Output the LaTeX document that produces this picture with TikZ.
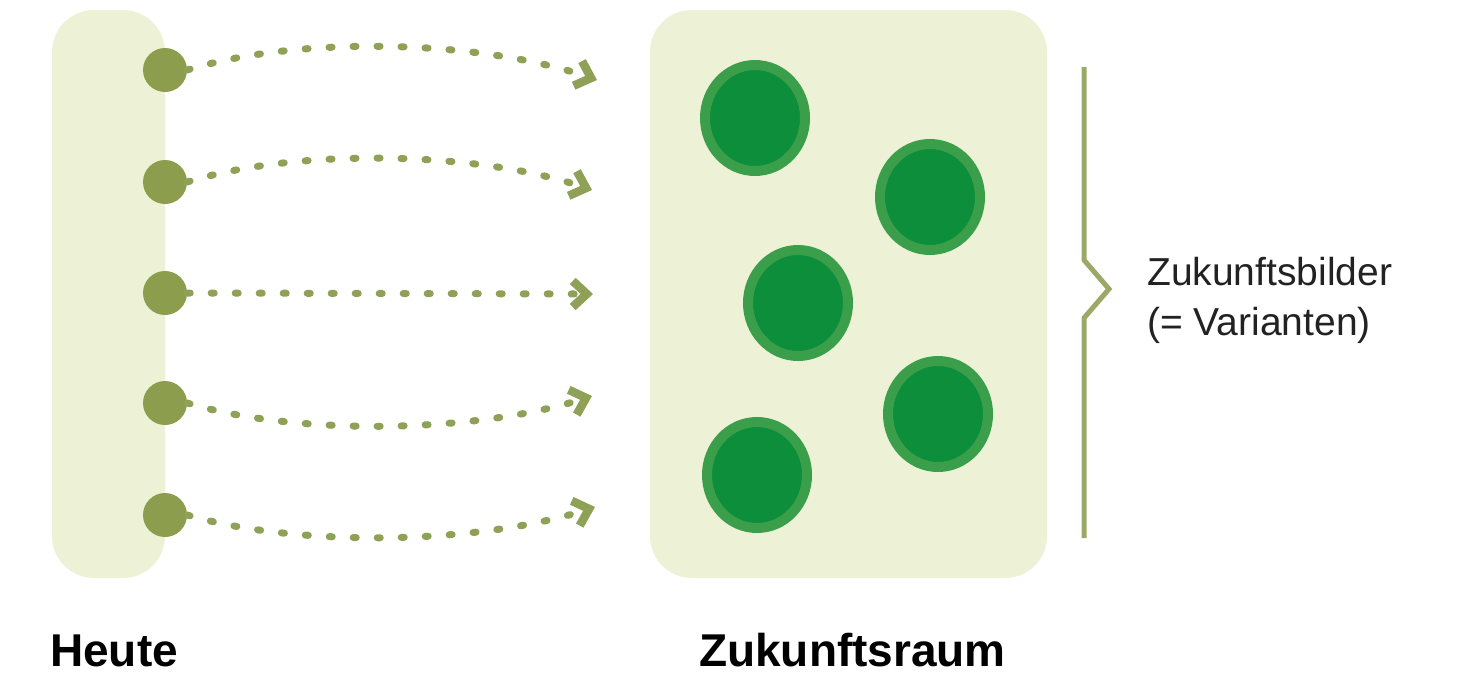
\documentclass[tikz,border=0pt]{standalone}
\usepackage{fontspec}
\setmainfont{Liberation Sans}
\usetikzlibrary{arrows.meta,shapes.geometric}
\definecolor{panel}{HTML}{EDF2D7}
\definecolor{olive}{HTML}{8C9E4E}
\definecolor{oliveline}{HTML}{8FA156}
\definecolor{bracket}{HTML}{9AAA66}
\definecolor{ringgreen}{HTML}{3A9E4A}
\definecolor{coregreen}{HTML}{0D8E3B}
\definecolor{textgray}{HTML}{222222}
\tikzset{
  panelbox/.style={fill=panel,draw=none,rounded corners=42pt,inner sep=0pt},
  startdot/.style={circle,fill=olive,draw=none,minimum size=44pt,inner sep=0pt},
  future/.style={ellipse,fill=coregreen,draw=ringgreen,line width=10pt,minimum width=100pt,minimum height=106pt,inner sep=0pt},
  pathline/.style={draw=oliveline,line width=7pt,line cap=round,dash pattern=on 3pt off 21pt,
    -{Straight Barb[length=14pt,width=26pt,line width=8.5pt,line cap=butt,line join=miter]}},
  labelbold/.style={font=\fontsize{46pt}{50pt}\selectfont\bfseries,text=black,inner sep=0pt},
  labelreg/.style={font=\fontsize{39pt}{50pt}\selectfont,text=textgray,inner sep=0pt,align=left}
}
\begin{document}
\begin{tikzpicture}[x=1pt,y=-1pt]
\useasboundingbox (0,0) rectangle (1470,675);
\fill[white] (0,0) rectangle (1470,675);
% panels
\node[panelbox,minimum width=113pt,minimum height=568pt] (heute) at (108.5,294) {};
\node[panelbox,minimum width=397pt,minimum height=568pt] (raum) at (848.5,294) {};
% start dots
\node[startdot] (d1) at (165,70) {};
\node[startdot] (d2) at (165,182) {};
\node[startdot] (d3) at (165,293) {};
\node[startdot] (d4) at (165,403) {};
\node[startdot] (d5) at (165,515) {};
% arrow ends
\coordinate (e1) at (597,80);
\coordinate (e2) at (592,190);
\coordinate (e3) at (593,294);
\coordinate (e4) at (592,396);
\coordinate (e5) at (595,507);
\draw[pathline] (d1.east) .. controls (300,35) and (480,40) .. (e1);
\draw[pathline] (d2.east) .. controls (300,147) and (480,152) .. (e2);
\draw[pathline] (d3.east) -- (e3);
\draw[pathline] (d4.east) .. controls (300,437) and (480,432) .. (e4);
\draw[pathline] (d5.east) .. controls (300,548) and (480,544) .. (e5);
% future images
\node[future] (f1) at (755,118) {};
\node[future] (f2) at (930,197) {};
\node[future] (f3) at (798,303) {};
\node[future] (f4) at (938,414) {};
\node[future] (f5) at (757,475) {};
% bracket
\coordinate (b1) at (1084,67);
\coordinate (b2) at (1084,260);
\coordinate (b3) at (1109,289);
\coordinate (b4) at (1084,318);
\coordinate (b5) at (1084,538);
\draw[bracket,line width=5pt,line join=miter] (b1) -- (b2) -- (b3) -- (b4) -- (b5);
% labels
\node[labelreg,anchor=base west] (zb) at (1147,335) {Zukunftsbilder\\(= Varianten)};
\node[labelbold,anchor=base west] (lh) at (50,666) {Heute};
\node[labelbold,anchor=base west] (lz) at (699,666) {Zukunftsraum};
\end{tikzpicture}
\end{document}
